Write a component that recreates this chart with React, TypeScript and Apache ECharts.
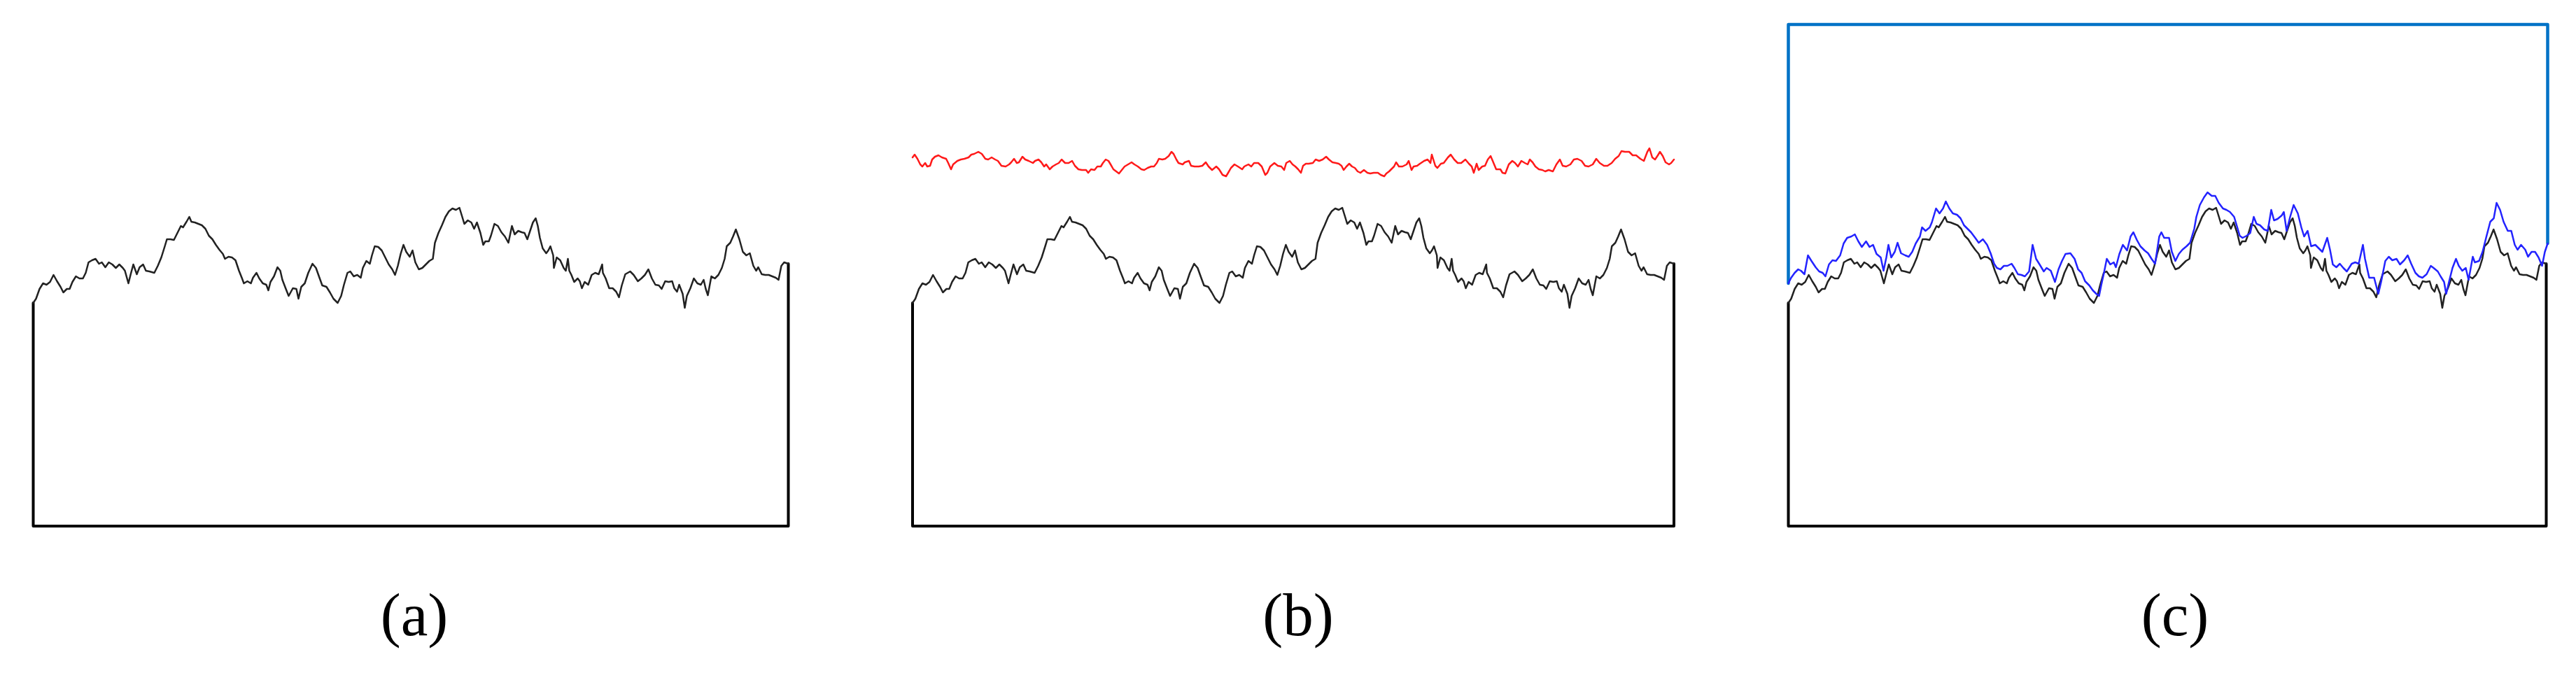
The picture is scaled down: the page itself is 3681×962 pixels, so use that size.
import React, { useEffect, useRef } from "react";
import * as echarts from "echarts";

// Black trace (sample position, value) — shared by panels (a), (b), (c)
const blackTrace: [number, number][] = [
  [0,319],[4,325],[9,339],[14,347],[19,345],[24,349],[29,359],[34,350],[39,342],[43,334],
  [48,339],[52,339],[56,349],[61,357],[66,354],[71,354],[75,362],[79,377],[84,380],[89,382],
  [94,375],[98,377],[103,370],[108,377],[113,374],[118,369],[123,374],[128,369],[131,365],[136,347],
  [139,359],[143,374],[148,360],[152,370],[157,374],[161,365],[166,364],[173,362],[178,372],[183,384],
  [188,400],[191,410],[196,410],[201,409],[206,419],[211,429],[214,427],[219,435],[223,442],[226,435],
  [231,434],[236,432],[241,430],[246,425],[251,415],[256,410],[261,402],[266,395],[271,389],[274,382],
  [279,385],[284,384],[289,380],[294,365],[298,355],[301,347],[306,350],[311,347],[314,355],[319,362],
  [323,354],[328,347],[333,345],[336,337],[339,349],[344,357],[349,370],[353,365],[356,352],[361,339],
  [365,329],[371,340],[376,339],[379,325],[383,342],[388,347],[393,362],[399,375],[404,369],[409,355],
  [413,344],[419,342],[424,334],[429,325],[435,319],[440,329],[444,345],[449,362],[453,364],[458,357],
  [463,359],[468,355],[471,369],[476,379],[481,375],[484,387],[488,400],[493,399],[498,394],[503,384],
  [508,374],[513,367],[517,359],[521,372],[525,389],[529,402],[533,392],[538,385],[542,394],[546,377],
  [551,367],[556,369],[561,374],[566,379],[571,382],[574,405],[579,419],[584,430],[589,442],[594,450],
  [599,454],[604,452],[609,455],[613,442],[616,432],[621,437],[626,434],[630,425],[634,434],[639,419],
  [643,402],[646,407],[651,407],[654,415],[659,432],[664,429],[669,420],[674,414],[679,405],[684,429],
  [688,417],[693,422],[698,420],[702,419],[706,410],[710,422],[714,434],[718,440],[721,429],[724,412],
  [728,397],[733,390],[736,394],[739,400],[743,387],[744,369],[748,384],[753,380],[758,369],[761,365],
  [764,382],[766,365],[769,359],[773,349],[778,354],[781,350],[784,340],[788,349],[793,345],[798,359],
  [803,362],[808,360],[813,374],[814,362],[818,354],[823,340],[828,340],[833,335],[837,327],[841,344],
  [846,360],[853,364],[858,359],[864,350],[869,354],[874,359],[879,367],[884,354],[889,345],[894,344],
  [898,339],[903,350],[908,349],[913,350],[916,340],[920,335],[923,345],[928,332],[931,312],[934,329],
  [939,340],[944,354],[949,347],[954,345],[958,352],[961,339],[964,330],[969,357],[974,354],[979,359],
  [984,369],[988,382],[991,400],[996,405],[1000,414],[1004,424],[1009,410],[1014,392],[1019,387],[1024,390],
  [1029,372],[1033,365],[1036,370],[1041,360],[1046,359],[1051,359],[1056,357],[1061,355],[1065,352],[1069,372],
  [1073,377],[1079,375]
];

// Red trace of panel (b)
const redTrace: [number, number][] = [
  [0,527],[3,531],[7,525],[11,517],[14,514],[18,519],[21,514],[25,515],[28,524],[32,528],
  [37,530],[42,527],[48,525],[51,519],[55,510],[58,517],[64,522],[69,524],[74,525],[80,527],
  [84,531],[88,532],[94,535],[99,532],[104,525],[108,524],[113,527],[118,524],[122,522],[127,515],
  [133,514],[138,517],[141,520],[145,525],[149,519],[152,520],[157,528],[161,524],[166,522],[172,519],
  [175,522],[180,524],[184,520],[188,514],[191,517],[196,510],[200,514],[205,517],[209,519],[213,524],
  [218,519],[223,519],[228,522],[232,515],[237,510],[242,509],[248,509],[251,505],[255,510],[260,509],
  [264,514],[269,514],[272,519],[276,524],[280,522],[283,517],[287,510],[291,507],[295,504],[299,509],
  [303,514],[308,517],[313,520],[317,517],[322,514],[327,510],[331,509],[336,512],[341,514],[345,514],
  [349,519],[352,525],[357,524],[361,525],[366,529],[370,535],[373,532],[377,524],[380,519],[386,517],
  [389,520],[395,522],[398,515],[403,514],[409,514],[414,515],[419,520],[423,514],[428,509],[434,514],
  [438,510],[443,502],[448,500],[451,505],[455,512],[460,517],[465,514],[471,510],[474,514],[480,517],
  [484,514],[488,519],[494,519],[499,514],[504,502],[507,505],[511,514],[517,519],[522,515],[527,514],
  [531,509],[534,519],[539,522],[543,517],[547,514],[551,510],[555,505],[558,515],[562,518],[566,518],
  [572,519],[576,524],[581,522],[586,524],[591,528],[595,524],[600,520],[605,519],[609,518],[613,515],
  [616,509],[620,514],[624,518],[628,514],[632,512],[636,507],[640,505],[645,509],[650,505],[654,504],
  [659,505],[665,505],[669,502],[674,500],[677,504],[681,507],[684,510],[688,514],[691,520],[695,514],
  [700,514],[706,517],[709,522],[713,509],[716,514],[721,515],[725,518],[731,522],[736,524],[740,519],
  [742,531],[747,515],[750,512],[755,518],[759,519],[765,527],[769,531],[774,524],[779,519],[784,519],
  [790,524],[795,518],[799,514],[802,505],[806,518],[809,509],[814,514],[818,515],[822,524],[826,529],
  [829,522],[834,510],[840,510],[843,505],[847,504],[852,517],[857,522],[861,519],[865,514],[870,522],
  [875,519],[879,517],[882,524],[886,520],[890,514],[895,510],[900,509],[904,507],[909,509],[915,507],
  [920,517],[925,524],[929,515],[934,514],[940,517],[945,524],[950,525],[956,522],[961,515],[966,514],
  [972,517],[977,525],[982,519],[988,515],[993,515],[999,519],[1004,525],[1009,529],[1013,536],[1018,535],
  [1024,535],[1029,530],[1034,530],[1040,525],[1045,522],[1050,535],[1053,540],[1057,527],[1061,524],[1065,530],
  [1068,535],[1072,529],[1076,520],[1081,517],[1084,519],[1088,524]
];

// Blue trace of panel (c)
const blueTrace: [number, number][] = [
  [0,347],[4,355],[9,362],[14,367],[18,365],[23,360],[28,387],[33,379],[39,370],[44,364],
  [49,362],[53,357],[58,374],[63,380],[68,379],[74,387],[79,404],[84,412],[90,414],[95,417],
  [100,407],[105,399],[111,407],[116,399],[121,402],[126,389],[132,384],[136,365],[140,384],[143,402],
  [147,384],[152,392],[156,405],[161,390],[167,387],[172,385],[177,392],[182,404],[188,414],[191,427],
  [196,422],[202,427],[205,434],[211,454],[216,447],[221,454],[225,464],[230,454],[235,447],[241,445],
  [246,440],[251,430],[256,425],[261,420],[267,412],[272,405],[278,410],[284,402],[289,390],[294,375],
  [298,369],[303,367],[308,372],[313,372],[319,375],[323,369],[328,360],[333,359],[338,357],[344,364],
  [349,402],[354,382],[359,374],[365,364],[369,369],[375,365],[381,349],[386,367],[391,379],[396,389],
  [403,390],[409,382],[414,367],[419,362],[424,350],[430,344],[435,337],[440,332],[444,329],[447,344],
  [451,362],[455,382],[460,374],[465,377],[468,370],[473,389],[478,402],[484,394],[489,414],[493,420],
  [498,409],[503,400],[509,394],[514,390],[519,382],[524,375],[530,414],[533,420],[537,412],[544,412],
  [548,392],[553,379],[558,389],[563,395],[569,400],[574,405],[580,425],[583,442],[588,459],[594,470],
  [599,477],[605,472],[610,472],[615,462],[621,454],[626,452],[631,449],[637,442],[640,432],[645,415],
  [649,412],[655,415],[660,419],[665,442],[669,432],[674,430],[680,424],[685,422],[690,452],[694,437],
  [699,439],[705,444],[708,449],[712,422],[717,442],[722,459],[728,447],[733,427],[737,414],[742,422],
  [747,400],[753,402],[758,397],[763,392],[770,412],[774,395],[778,374],[783,370],[788,375],[793,369],
  [798,364],[805,375],[810,377],[815,375],[821,402],[824,382],[830,355],[837,355],[843,332],[847,349],
  [853,379],[858,385],[863,380],[869,382],[874,374],[880,380],[885,387],[890,375],[896,362],[901,357],
  [906,355],[912,360],[918,372],[922,369],[928,364],[932,357],[937,349],[940,332],[944,349],[949,369],
  [954,382],[958,372],[963,365],[968,369],[972,352],[978,385],[981,377],[987,379],[992,392],[997,412],
  [1003,435],[1008,440],[1012,462],[1017,452],[1022,435],[1028,422],[1033,422],[1038,402],[1042,395],[1047,402],
  [1053,395],[1057,385],[1062,392],[1067,392],[1072,384],[1077,372],[1081,392],[1085,404]
];

const panelLabels = ["(a)", "(b)", "(c)"];
const Y_MAX = 717;          // top of the value range (blue frame level)
const BLACK_END = 1079;
const RED_END = 1088;
const BLUE_END = 1085;

export default function App() {
  const ref = useRef<HTMLDivElement>(null);

  useEffect(() => {
    if (!ref.current) return;
    const chart = echarts.init(ref.current, null, { renderer: "svg" });

    const first = blackTrace[0];
    const last = blackTrace[blackTrace.length - 1];
    const blackFrame = [[first[0], first[1]], [first[0], 0], [last[0], 0], [last[0], last[1]]];
    const bFirst = blueTrace[0];
    const bLast = blueTrace[blueTrace.length - 1];
    const blueFrame = [[bFirst[0], bFirst[1]], [bFirst[0], Y_MAX], [bLast[0], Y_MAX], [bLast[0], bLast[1]]];

    const curve = (xi: number, yi: number, data: any, color: string, width: number) => ({
      type: "line",
      xAxisIndex: xi,
      yAxisIndex: yi,
      data,
      showSymbol: false,
      symbol: "none",
      clip: false,
      silent: true,
      lineStyle: { color, width, join: "round", cap: "round" },
    });

    const xa = (gi: number, max: number) => ({
      type: "value", gridIndex: gi, min: 0, max, show: false,
    });
    const ya = (gi: number) => ({
      type: "value", gridIndex: gi, min: 0, max: Y_MAX, show: false,
    });

    const labelX = [592, 1855, 3108];

    chart.setOption({
      animation: false,
      backgroundColor: "#ffffff",
      grid: [
        { left: 47.5, top: 35, width: 1079, height: 717 },
        { left: 1304, top: 35, width: 1088, height: 717 },
        { left: 2555.5, top: 35, width: 1085, height: 717 },
      ],
      xAxis: [
        xa(0, BLACK_END),
        xa(1, BLACK_END),
        xa(1, RED_END),
        xa(2, BLACK_END + 2),
        xa(2, BLUE_END),
      ],
      yAxis: [ya(0), ya(1), ya(2)],
      series: [
        curve(0, 0, blackFrame, "#000000", 4),
        curve(0, 0, blackTrace, "#222222", 2.5),
        curve(1, 1, blackFrame, "#000000", 4),
        curve(1, 1, blackTrace, "#222222", 2.5),
        curve(2, 1, redTrace, "#ff1a1a", 2.5),
        curve(3, 2, blackFrame, "#000000", 4),
        curve(3, 2, blackTrace, "#222222", 2.5),
        curve(4, 2, blueFrame, "#0072c6", 4.5),
        curve(4, 2, blueTrace, "#2323ff", 2.5),
      ],
      graphic: panelLabels.map((t, i) => ({
        type: "text",
        x: labelX[i],
        y: 878,
        silent: true,
        style: {
          text: t,
          fontFamily: '"Liberation Serif", "DejaVu Serif", serif',
          fontSize: 87,
          fill: "#000000",
          align: "center",
          verticalAlign: "middle",
        },
      })),
    });

    return () => chart.dispose();
  }, []);

  return (
    <div
      ref={ref}
      style={{ position: "absolute", left: 0, top: 0, width: 3681, height: 962, background: "#fff" }}
    />
  );
}
